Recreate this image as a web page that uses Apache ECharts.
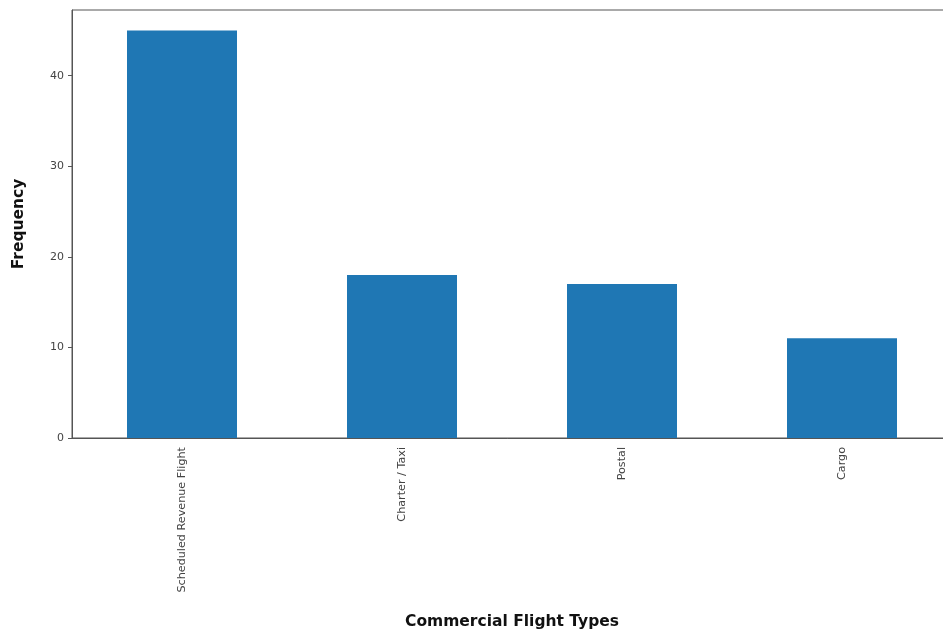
<!DOCTYPE html>
<html>
<head>
<meta charset="utf-8">
<script src="https://cdn.jsdelivr.net/npm/echarts@6/dist/echarts.min.js"></script>
<style>html,body{margin:0;padding:0;background:#fff}#c{width:943px;height:634px}</style>
</head>
<body>
<div id="c"></div>
<script>
const categories = ["Scheduled Revenue Flight", "Charter / Taxi", "Postal", "Cargo"];
const frequency = [45, 18, 17, 11];
const yTicks = [0, 10, 20, 30, 40];
const xTitle = "Commercial Flight Types";
const yTitle = "Frequency";

const chart = echarts.init(document.getElementById('c'), null, {renderer: 'canvas'});
chart.setOption({
  animation: false,
  backgroundColor: '#fff',
  grid: {left: 72, width: 880, top: 10, bottom: 196, show: true, borderColor: '#555', borderWidth: 1, backgroundColor: 'transparent', containLabel: false, outerBoundsMode: 'none'},
  xAxis: {
    type: 'category',
    data: categories,
    name: xTitle,
    nameLocation: 'middle',
    nameGap: 176,
    nameTextStyle: {fontFamily: 'DejaVu Sans', fontWeight: 'bold', fontSize: 15.5, color: '#111'},
    axisLine: {lineStyle: {color: '#555', width: 1}},
    axisTick: {alignWithLabel: true, length: 4, lineStyle: {color: '#555'}},
    axisLabel: {rotate: 90, fontFamily: 'DejaVu Sans', fontSize: 11.2, color: '#444', margin: 9}
  },
  yAxis: {
    type: 'value',
    min: 0,
    max: 47.25,
    interval: 10,
    name: yTitle,
    nameLocation: 'middle',
    nameGap: 45,
    nameTextStyle: {fontFamily: 'DejaVu Sans', fontWeight: 'bold', fontSize: 15.5, color: '#111'},
    axisLine: {show: true, lineStyle: {color: '#555', width: 1}},
    axisTick: {show: true, length: 4, lineStyle: {color: '#555'}, customValues: yTicks},
    axisLabel: {fontFamily: 'DejaVu Sans', fontSize: 11, color: '#444', margin: 8, customValues: yTicks},
    splitLine: {show: false}
  },
  series: [{
    type: 'bar',
    data: frequency,
    barWidth: '50%',
    itemStyle: {color: '#1f77b4'}
  }]
});
</script>
</body>
</html>
